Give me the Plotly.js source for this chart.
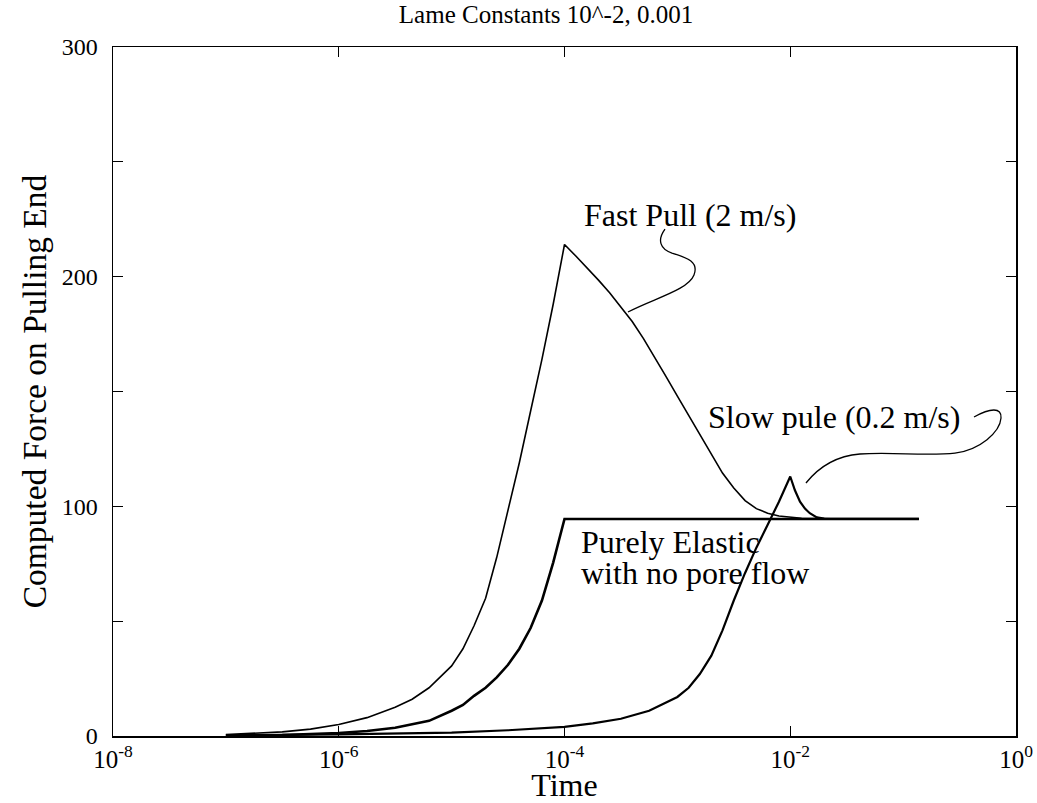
<!DOCTYPE html>
<html><head><meta charset="utf-8">
<script src="https://cdn.plot.ly/plotly-3.0.1.min.js"></script>
<style>html,body{margin:0;padding:0;background:#fff}#chart{width:1037px;height:803px}</style>
</head><body><div id="chart"></div><script>
// ---- data (time in seconds, force) ----
const fastTime  = [1e-7, 1.78e-7, 3.16e-7, 5.62e-7, 1e-6, 1.78e-6, 3.16e-6, 4.47e-6, 6.31e-6, 1e-5, 1.26e-5, 1.58e-5, 2e-5, 2.51e-5, 3.16e-5, 3.98e-5, 5.01e-5, 6.31e-5, 7.94e-5, 1e-4,
                   1.26e-4, 1.58e-4, 2e-4, 2.51e-4, 3.16e-4, 3.98e-4, 5.01e-4, 6.31e-4, 7.94e-4, 1e-3, 1.26e-3, 1.58e-3, 2e-3, 2.51e-3, 3.16e-3, 3.98e-3,
                   5.01e-3, 6.31e-3, 7.94e-3, 1e-2, 1.26e-2, 3.16e-2, 0.138];
const fastForce = [0.6, 1.1, 1.8, 3.0, 5, 8, 12.5, 16, 21, 30.5, 38, 48, 60, 77.8, 98, 119, 141.5, 164, 188, 214,
                   209, 204, 198.5, 193, 187, 180.5, 173, 165, 156.5, 148, 139.5, 131, 122.5, 114.5, 108, 102.5,
                   99, 97, 95.8, 95.2, 94.8, 94.5, 94.5];

const elasticTime  = [1e-7, 3.16e-7, 1e-6, 1.78e-6, 3.16e-6, 6.31e-6, 1e-5, 1.26e-5, 1.58e-5, 2e-5, 2.51e-5, 3.16e-5, 3.98e-5, 5.01e-5, 6.31e-5, 7.94e-5, 8.91e-5, 1e-4, 1e-3, 1e-2, 0.138];
const elasticForce = [0.15, 0.4, 1.3, 2.2, 3.6, 6.6, 11, 13.5, 17.5, 21, 25.5, 31, 38, 47, 59, 75.5, 85, 94.5, 94.5, 94.5, 94.5];

const slowTime  = [1e-7, 1e-6, 1e-5, 3.16e-5, 1e-4, 1.78e-4, 3.16e-4, 5.62e-4, 1e-3, 1.26e-3, 1.58e-3, 2e-3, 2.51e-3, 3.16e-3, 3.98e-3, 5.01e-3, 6.31e-3, 7.94e-3, 1e-2,
                   1.1e-2, 1.22e-2, 1.35e-2, 1.49e-2, 1.72e-2, 2e-2, 0.138];
const slowForce = [0.3, 0.7, 1.5, 2.5, 4, 5.5, 7.5, 11, 17, 21, 27, 35, 46, 59, 71, 82, 92, 102, 113,
                   107, 102, 99, 97, 95.2, 94.7, 94.5];

const xTickVals = [1e-8, 1e-6, 1e-4, 1e-2, 1];
const xTickText = ['10<sup>-8</sup>', '10<sup>-6</sup>', '10<sup>-4</sup>', '10<sup>-2</sup>', '10<sup>0</sup>'];
const yTickVals = [0, 50, 100, 150, 200, 250, 300];
const yTickText = ['0', '', '100', '', '200', '', '300'];

const chartTitle = 'Lame Constants 10^-2, 0.001';
const xTitle = 'Time';
const yTitle = 'Computed Force on Pulling End';
const labelFast = 'Fast Pull (2 m/s)';
const labelSlow = 'Slow pule (0.2 m/s)';
const labelElastic1 = 'Purely Elastic';
const labelElastic2 = 'with no pore flow';

// ---- layout helpers ----
const M = {l: 113, r: 21, t: 47, b: 67};
const W = 1037, H = 803;
const PW = W - M.l - M.r, PH = H - M.t - M.b;
function px(x, y) { return ((x - M.l) / PW).toFixed(4) + ',' + ((H - M.b - y) / PH).toFixed(4); }
function pathFromPixels(start, curves) {
  let d = 'M ' + px(start[0], start[1]);
  curves.forEach(c => { d += ' C ' + px(c[0], c[1]) + ' ' + px(c[2], c[3]) + ' ' + px(c[4], c[5]); });
  return d;
}
const fastLeader = pathFromPixels([628, 312], [
  [655, 298, 688, 290, 694, 275],
  [699, 262, 688, 258, 672, 253],
  [660, 249, 657, 240, 665, 229]
]);
const slowLeader = pathFromPixels([806, 483], [
  [818, 468, 835, 456, 860, 454],
  [890, 452, 930, 456, 955, 453],
  [980, 450, 1000, 432, 1001, 418],
  [1002, 407, 990, 408, 974, 417]
]);

const serif = '"Liberation Serif", "Times New Roman", Times, serif';

const traces = [
  {x: fastTime, y: fastForce, type: 'scatter', mode: 'lines', line: {color: '#000', width: 1.6}, hoverinfo: 'skip'},
  {x: elasticTime, y: elasticForce, type: 'scatter', mode: 'lines', line: {color: '#000', width: 2.6}, hoverinfo: 'skip'},
  {x: slowTime, y: slowForce, type: 'scatter', mode: 'lines', line: {color: '#000', width: 2.2}, hoverinfo: 'skip'}
];

const annFont = {family: serif, size: 32, color: '#000'};

const layout = {
  width: W, height: H,
  margin: M,
  paper_bgcolor: '#fff', plot_bgcolor: '#fff',
  showlegend: false,
  font: {family: serif, color: '#000'},
  title: {text: chartTitle, font: {family: serif, size: 25, color: '#000'}, xref: 'paper', x: 0.4795, xanchor: 'center', y: 0.982, yanchor: 'middle'},
  xaxis: {
    type: 'log', range: [-8, 0], tickmode: 'array', tickvals: xTickVals, ticktext: xTickText,
    showgrid: false, zeroline: false, showline: true, linecolor: '#000', linewidth: 1.5, mirror: 'ticks',
    ticks: 'inside', ticklen: 10, tickwidth: 1, tickcolor: '#000', ticklabelstandoff: 0,
    tickfont: {family: serif, size: 25, color: '#000'},
    title: {text: xTitle, font: {family: serif, size: 32, color: '#000'}, standoff: 2}
  },
  yaxis: {
    range: [0, 300], tickmode: 'array', tickvals: yTickVals, ticktext: yTickText,
    showgrid: false, zeroline: false, showline: true, linecolor: '#000', linewidth: 1.5, mirror: 'ticks',
    ticks: 'inside', ticklen: 10, tickwidth: 1, tickcolor: '#000', ticklabelstandoff: 9,
    tickfont: {family: serif, size: 24, color: '#000'},
    title: {text: yTitle, font: {family: serif, size: 33.5, color: '#000'}, standoff: 5}
  },
  annotations: [
    {xref: 'x', yref: 'y', x: -3.846, y: 226.8, text: labelFast, showarrow: false, xanchor: 'left', yanchor: 'middle', font: annFont},
    {xref: 'x', yref: 'y', x: -2.75, y: 138.7, text: labelSlow, showarrow: false, xanchor: 'left', yanchor: 'middle', font: annFont},
    {xref: 'x', yref: 'y', x: -3.87, y: 84.6, text: labelElastic1, showarrow: false, xanchor: 'left', yanchor: 'middle', font: annFont},
    {xref: 'x', yref: 'y', x: -3.87, y: 71.0, text: labelElastic2, showarrow: false, xanchor: 'left', yanchor: 'middle', font: annFont}
  ],
  shapes: [
    {type: 'path', xref: 'paper', yref: 'paper', path: fastLeader, line: {color: '#000', width: 1.3}},
    {type: 'path', xref: 'paper', yref: 'paper', path: slowLeader, line: {color: '#000', width: 1.3}}
  ]
};

Plotly.newPlot('chart', traces, layout, {displayModeBar: false, staticPlot: true});
</script></body></html>
